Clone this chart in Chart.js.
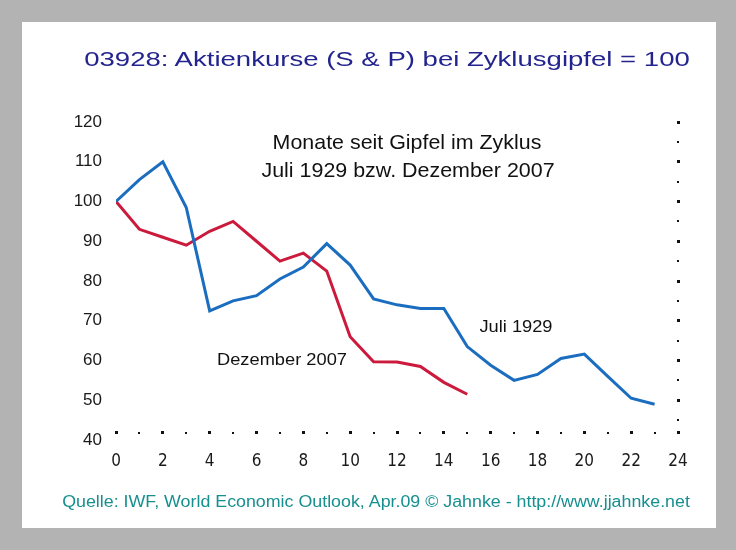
<!DOCTYPE html>
<html lang="de">
<head>
<meta charset="utf-8">
<title>Aktienkurse bei Zyklusgipfel</title>
<script src="https://cdn.jsdelivr.net/npm/chart.js@4.4.1/dist/chart.umd.min.js"></script>
<style>
  html, body { margin: 0; padding: 0; }
  body {
    width: 736px; height: 550px; position: relative; overflow: hidden;
    background: #b3b3b3;
    font-family: 'Liberation Sans', Arial, sans-serif;
  }
  #panel { position: absolute; left: 22px; top: 22px; width: 694px; height: 506px; background: #fff; }
  #chart { position: absolute; left: 0; top: 0; }
  .txt { position: absolute; white-space: nowrap; line-height: 1; }
</style>
</head>
<body>
<div id="panel"></div>
<canvas id="chart" width="736" height="550"></canvas>

<div class="txt" data-cx="387" data-cy="59" data-w="606" style="font-size:20px;color:#24248f">03928: Aktienkurse (S &amp; P) bei Zyklusgipfel = 100</div>
<div class="txt" data-cx="407" data-cy="141" data-w="269" style="font-size:21px;color:#111">Monate seit Gipfel im Zyklus</div>
<div class="txt" data-cx="408" data-cy="169" data-w="293" style="font-size:21px;color:#111">Juli 1929 bzw. Dezember 2007</div>
<div class="txt" data-cx="516" data-cy="326" data-w="73" style="font-size:17px;color:#111">Juli 1929</div>
<div class="txt" data-cx="282" data-cy="359" data-w="130" style="font-size:17px;color:#111">Dezember 2007</div>
<div class="txt" data-cx="376" data-cy="502" data-w="628" style="font-size:16px;color:#178f8f">Quelle: IWF, World Economic Outlook, Apr.09 © Jahnke - http://www.jjahnke.net</div>

<script>
// Monate seit Zyklusgipfel
const months = [0, 1, 2, 3, 4, 5, 6, 7, 8, 9, 10, 11, 12, 13, 14, 15, 16, 17, 18, 19, 20, 21, 22, 23];

// S&P, Zyklusgipfel = 100
const juli1929 = [100, 105.5, 110, 98.5, 72.5, 75, 76.3, 80.5, 83.5, 89.4, 84, 75.5,
                  74, 73.1, 73.1, 63.5, 58.8, 55, 56.5, 60.5, 61.6, 56, 50.5, 49];
const dez2007 = [100, 93, 91, 89, 92.5, 95, 90, 85, 87, 82.5, 66, 59.7, 59.6, 58.5, 54.5, 51.5];

const xTicks = [0, 2, 4, 6, 8, 10, 12, 14, 16, 18, 20, 22, 24];
const yTicks = [40, 50, 60, 70, 80, 90, 100, 110, 120];

// place the text labels and stretch them to the widths of the original
document.querySelectorAll('.txt').forEach(el => {
  const sx = +el.dataset.w / el.offsetWidth;
  el.style.left = el.dataset.cx + 'px';
  el.style.top = el.dataset.cy + 'px';
  el.style.transform = `translate(-50%, -50%) scaleX(${sx})`;
});

// dotted axes: bottom row (every month) and right column (every 5 points)
const axisDots = {
  id: 'axisDots',
  afterDatasetsDraw(chart) {
    const { ctx, scales: { x, y } } = chart;
    ctx.save();
    ctx.fillStyle = '#111';
    const rowY = y.getPixelForValue(41.8);
    for (let m = 0; m <= 24; m++) {
      const s = m % 2 === 0 ? 3 : 2;
      ctx.fillRect(Math.round(x.getPixelForValue(m) - s / 2), Math.round(rowY - s / 2), s, s);
    }
    const colX = x.getPixelForValue(24);
    for (let v = 45; v <= 120; v += 5) {
      const s = v % 10 === 0 ? 3 : 2;
      ctx.fillRect(Math.round(colX - s / 2), Math.round(y.getPixelForValue(v) - s / 2), s, s);
    }
    ctx.restore();
  }
};

function toPoints(values) {
  return values.map((v, i) => ({ x: months[i], y: v }));
}

new Chart(document.getElementById('chart'), {
  type: 'line',
  data: {
    datasets: [
      {
        label: 'Juli 1929',
        data: toPoints(juli1929),
        borderColor: '#1b6dbf',
        borderWidth: 3,
        pointRadius: 0,
        tension: 0
      },
      {
        label: 'Dezember 2007',
        data: toPoints(dez2007),
        borderColor: '#cb1a3c',
        borderWidth: 3,
        pointRadius: 0,
        tension: 0
      }
    ]
  },
  options: {
    responsive: false,
    animation: false,
    layout: { padding: { top: 122, right: 58, bottom: 0, left: 0 } },
    plugins: {
      legend: { display: false },
      tooltip: { enabled: false }
    },
    scales: {
      x: {
        type: 'linear',
        min: 0,
        max: 24,
        afterFit: s => { s.height = 110; },
        afterBuildTicks: s => { s.ticks = xTicks.map(v => ({ value: v })); },
        grid: { display: false, drawTicks: false },
        border: { display: false },
        ticks: {
          padding: 11,
          color: '#1a1a1a',
          font: { family: "'Liberation Sans Narrow', 'DejaVu Sans Condensed', Arial", size: 17 }
        }
      },
      y: {
        min: 40,
        max: 120,
        afterFit: s => { s.width = 116; },
        afterBuildTicks: s => { s.ticks = yTicks.map(v => ({ value: v })); },
        grid: { display: false, drawTicks: false },
        border: { display: false },
        ticks: {
          padding: 14,
          color: '#1a1a1a',
          font: { family: "'Liberation Sans', Arial", size: 17 }
        }
      }
    }
  },
  plugins: [axisDots]
});
</script>
</body>
</html>
